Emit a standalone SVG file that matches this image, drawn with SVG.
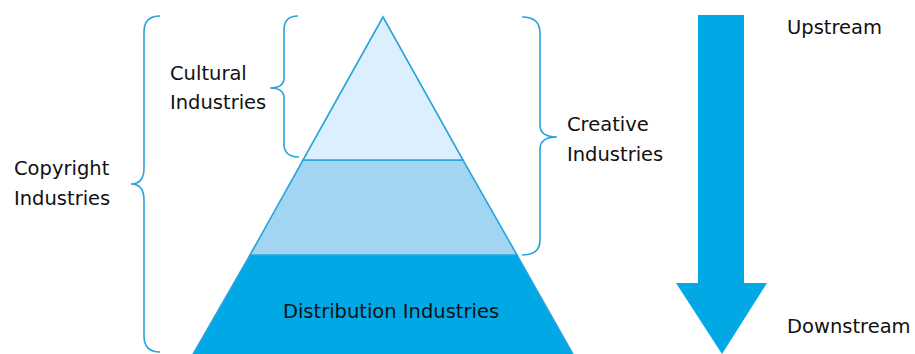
<svg xmlns="http://www.w3.org/2000/svg" width="915" height="354" viewBox="0 0 915 354">
<style>
text{font-family:"DejaVu Sans","Liberation Sans",sans-serif;font-size:19.5px;fill:#111}
.br{fill:none;stroke:#2aa3dd;stroke-width:1.6}
.tier{stroke:#2aa3dd;stroke-width:1.6}
</style>
<rect width="915" height="354" fill="#fff"/>
<g id="pyramid">
<polygon id="tier-bottom" class="tier" points="250,255 517,255 574,356 192,356" fill="#00a8e6"/>
<polygon id="tier-middle" class="tier" points="303,160 463,160 517,255 250,255" fill="#a2d5f2"/>
<polygon id="tier-top" class="tier" points="383,17 463,160 303,160" fill="#dcefff"/>
<text x="391" y="318" text-anchor="middle">Distribution Industries</text>
</g>
<g id="connectors">
<path id="brace-copyright" class="br" d="M160,16 Q144,16 144,32 L144,168 Q144,184 131,184 Q144,184 144,200 L144,336 Q144,352 160,352"/>
<path id="brace-cultural" class="br" d="M298,16 Q284,16 284,30 L284,78 Q284,88 270,88 Q284,88 284,98 L284,144 Q284,157 299,157"/>
<path id="brace-creative" class="br" d="M522,17 Q540,17 540,33 L540,125 Q540,137 557,137 Q540,137 540,149 L540,240 Q540,255 522,255"/>
</g>
<g id="label-copyright"><text x="14" y="175">Copyright</text><text x="14" y="205">Industries</text></g>
<g id="label-cultural"><text x="170" y="80">Cultural</text><text x="170" y="109">Industries</text></g>
<g id="label-creative"><text x="567" y="131">Creative</text><text x="567" y="161">Industries</text></g>
<g id="flow-arrow">
<polygon points="698,15 744,15 744,283 767,283 722,354 676,283 698,283" fill="#00a8e6"/>
</g>
<g id="label-upstream"><text x="787" y="34">Upstream</text></g>
<g id="label-downstream"><text x="787" y="333">Downstream</text></g>
</svg>
